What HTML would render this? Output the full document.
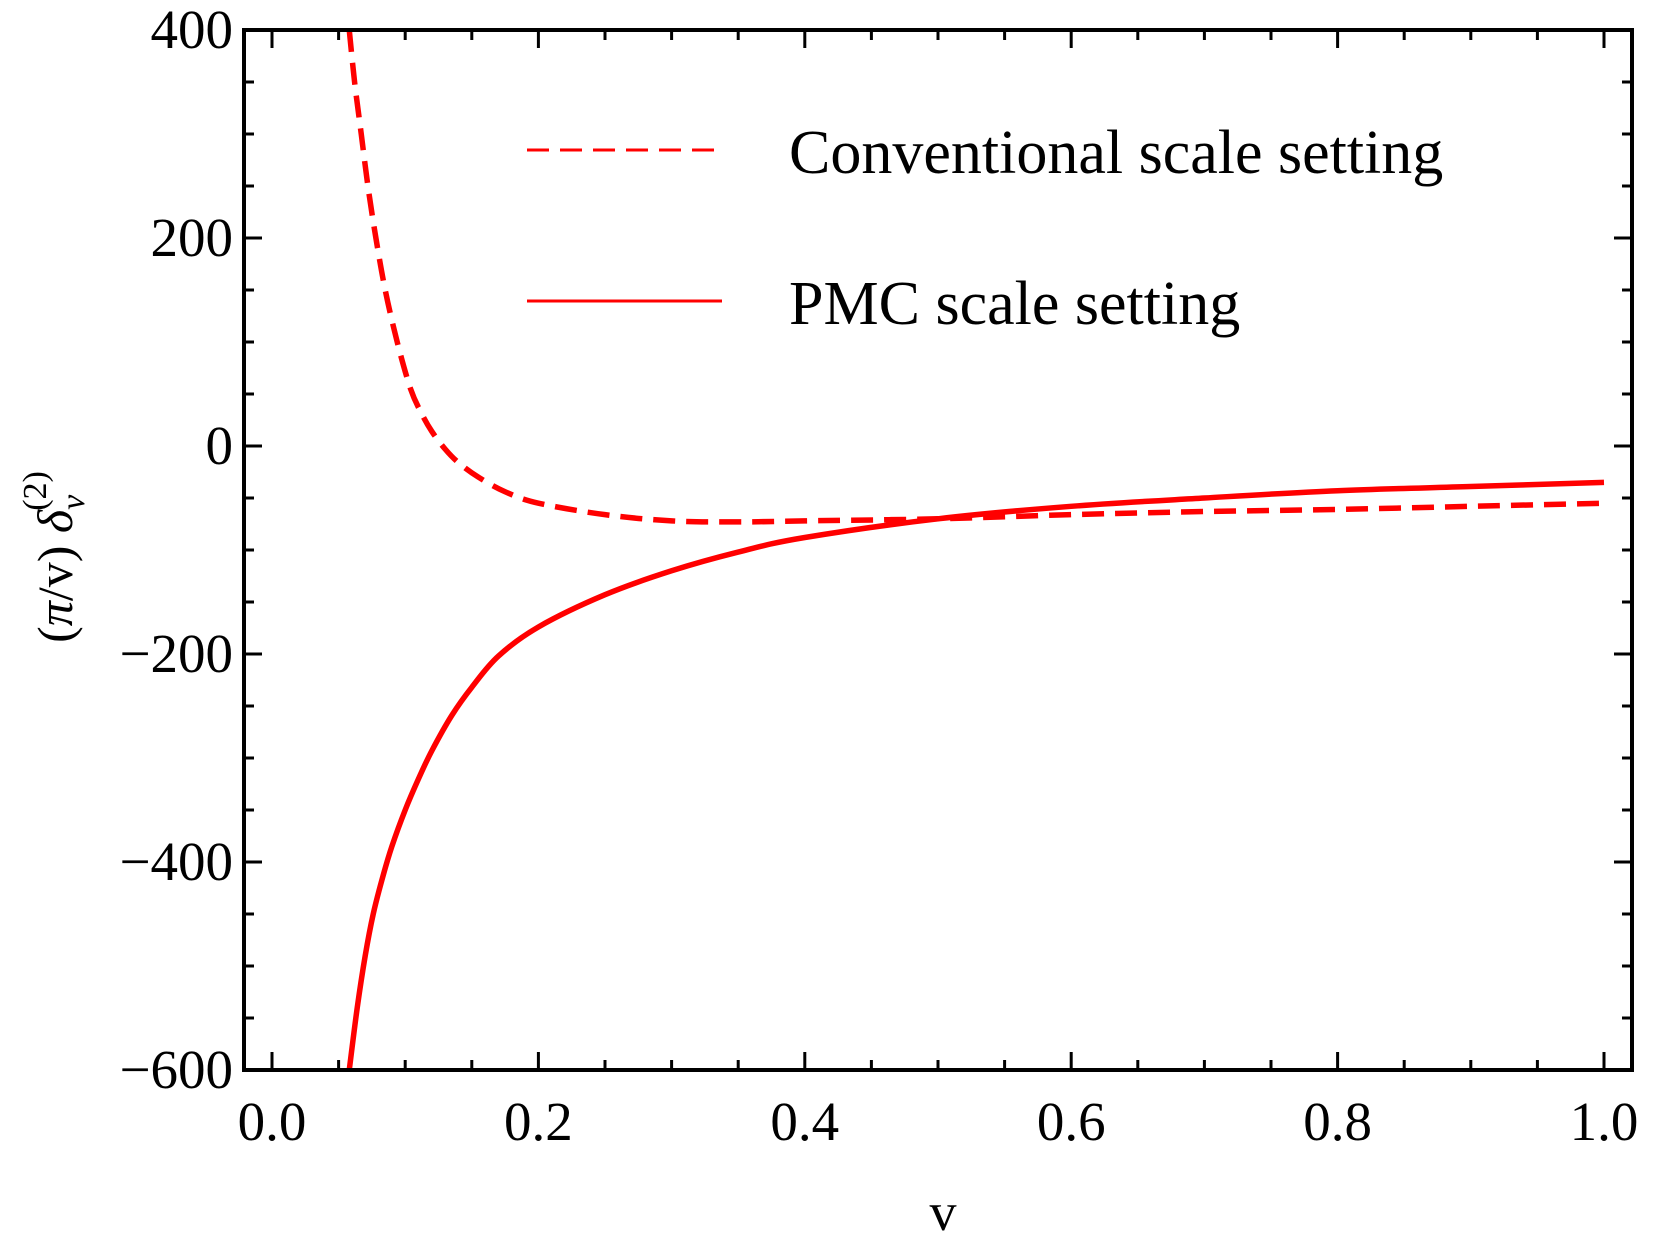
<!DOCTYPE html>
<html><head><meta charset="utf-8"><style>
html,body{margin:0;padding:0;background:#fff;}
svg text{font-family:"Liberation Serif",serif;fill:#000;}
</style></head><body>
<svg id="chart" width="1656" height="1239" viewBox="0 0 1656 1239" xmlns="http://www.w3.org/2000/svg">
<g id="curves"></g>
<g id="axes"></g>
<g>
  <line x1="527" y1="150" x2="722" y2="150" stroke="#ff0000" stroke-width="3" stroke-dasharray="22,11"/>
  <text x="789" y="173" font-size="62">Conventional scale setting</text>
  <line x1="527" y1="301" x2="722" y2="301" stroke="#ff0000" stroke-width="3"/>
  <text x="789" y="324" font-size="62">PMC scale setting</text>
</g>
<text x="943" y="1230" font-size="54" text-anchor="middle">v</text>
<text transform="translate(72,557) rotate(-90)" font-size="50" text-anchor="middle">(<tspan font-style="italic">π</tspan>/v) <tspan font-style="italic">δ</tspan><tspan font-style="italic" font-size="34" dy="12">v</tspan><tspan font-size="34" dx="-16" dy="-38">(2)</tspan></text>
</svg>
<script>
const convX=[0.058,0.062,0.067,0.072,0.078,0.085,0.094,0.104,0.112,0.12,0.13,0.14,0.155,0.175,0.2,0.25,0.3,0.35,0.4,0.5,0.6,0.7,0.8,0.9,1.0];
const convY=[400,350,300,250,200,150,100,55,32,14,-3,-16,-30,-44,-55,-66,-72,-73,-72,-70,-66,-63,-61,-58,-55];
const pmcX=[0.058,0.064,0.07,0.076,0.083,0.09,0.1,0.11,0.12,0.135,0.15,0.17,0.2,0.25,0.3,0.35,0.4,0.5,0.6,0.7,0.8,0.9,1.0];
const pmcY=[-600,-540,-490,-450,-415,-385,-350,-320,-293,-259,-232,-202,-174,-143,-120,-102,-88,-70,-58,-50,-43,-39,-35];
const xTicks=[0,0.2,0.4,0.6,0.8,1.0];
const xTickLabels=["0.0","0.2","0.4","0.6","0.8","1.0"];
const yTicks=[400,200,0,-200,-400,-600];
const yTickLabels=["400","200","0","\u2212200","\u2212400","\u2212600"];
const L=244,R=1632,T=30,B=1070;
const sx=v=>272+v*1332;
const sy=v=>T+(400-v)*(B-T)/1000;
const NS="http://www.w3.org/2000/svg";
function mk(tag,attrs,parent){const e=document.createElementNS(NS,tag);for(const k in attrs)e.setAttribute(k,attrs[k]);parent.appendChild(e);return e;}
function pathD(xs,ys){const p=xs.map((x,i)=>[sx(x),sy(ys[i])]);let d="M"+p[0][0]+","+p[0][1];
 for(let i=0;i<p.length-1;i++){const p0=p[Math.max(0,i-1)],p1=p[i],p2=p[i+1],p3=p[Math.min(p.length-1,i+2)];
 const c1=[p1[0]+(p2[0]-p0[0])/6,p1[1]+(p2[1]-p0[1])/6],c2=[p2[0]-(p3[0]-p1[0])/6,p2[1]-(p3[1]-p1[1])/6];
 d+=" C"+c1+" "+c2+" "+p2;}return d;}
const cg=document.getElementById('curves');
const clip=mk('clipPath',{id:'pc'},cg);mk('rect',{x:L,y:T,width:R-L,height:B-T},clip);
const dl=mk('path',{d:pathD(convX,convY),fill:'none',stroke:'#ff0000','stroke-width':5.5,'stroke-dasharray':'22,11','clip-path':'url(#pc)'},cg);


const sl=mk('path',{d:pathD(pmcX,pmcY),fill:'none',stroke:'#ff0000','stroke-width':5.5,'clip-path':'url(#pc)'},cg);


const ag=document.getElementById('axes');
const fr=mk('rect',{x:L,y:T,width:R-L,height:B-T,fill:'none',stroke:'#000','stroke-width':4},ag);


for(let i=0;i<=21;i++){const v=i*0.05;const x=sx(v);if(x<L||x>R)continue;const len=(i%4===0)?18:10;
 mk('line',{x1:x,y1:B,x2:x,y2:B-len,stroke:'#000','stroke-width':3},ag);
 mk('line',{x1:x,y1:T,x2:x,y2:T+len,stroke:'#000','stroke-width':3},ag);}
for(let i=0;i<=20;i++){const v=400-i*50;const y=sy(v);const len=(i%4===0)?18:10;
 mk('line',{x1:L,y1:y,x2:L+len,y2:y,stroke:'#000','stroke-width':3},ag);
 mk('line',{x1:R,y1:y,x2:R-len,y2:y,stroke:'#000','stroke-width':3},ag);}
xTicks.forEach((v,i)=>{const t=mk('text',{x:sx(v),y:1140,'font-size':55,'text-anchor':'middle'},ag);t.textContent=xTickLabels[i];
 
 });
yTicks.forEach((v,i)=>{const t=mk('text',{x:233,y:sy(v)+18,'font-size':55,'text-anchor':'end'},ag);t.textContent=yTickLabels[i];
 
 });
</script>
</body></html>
